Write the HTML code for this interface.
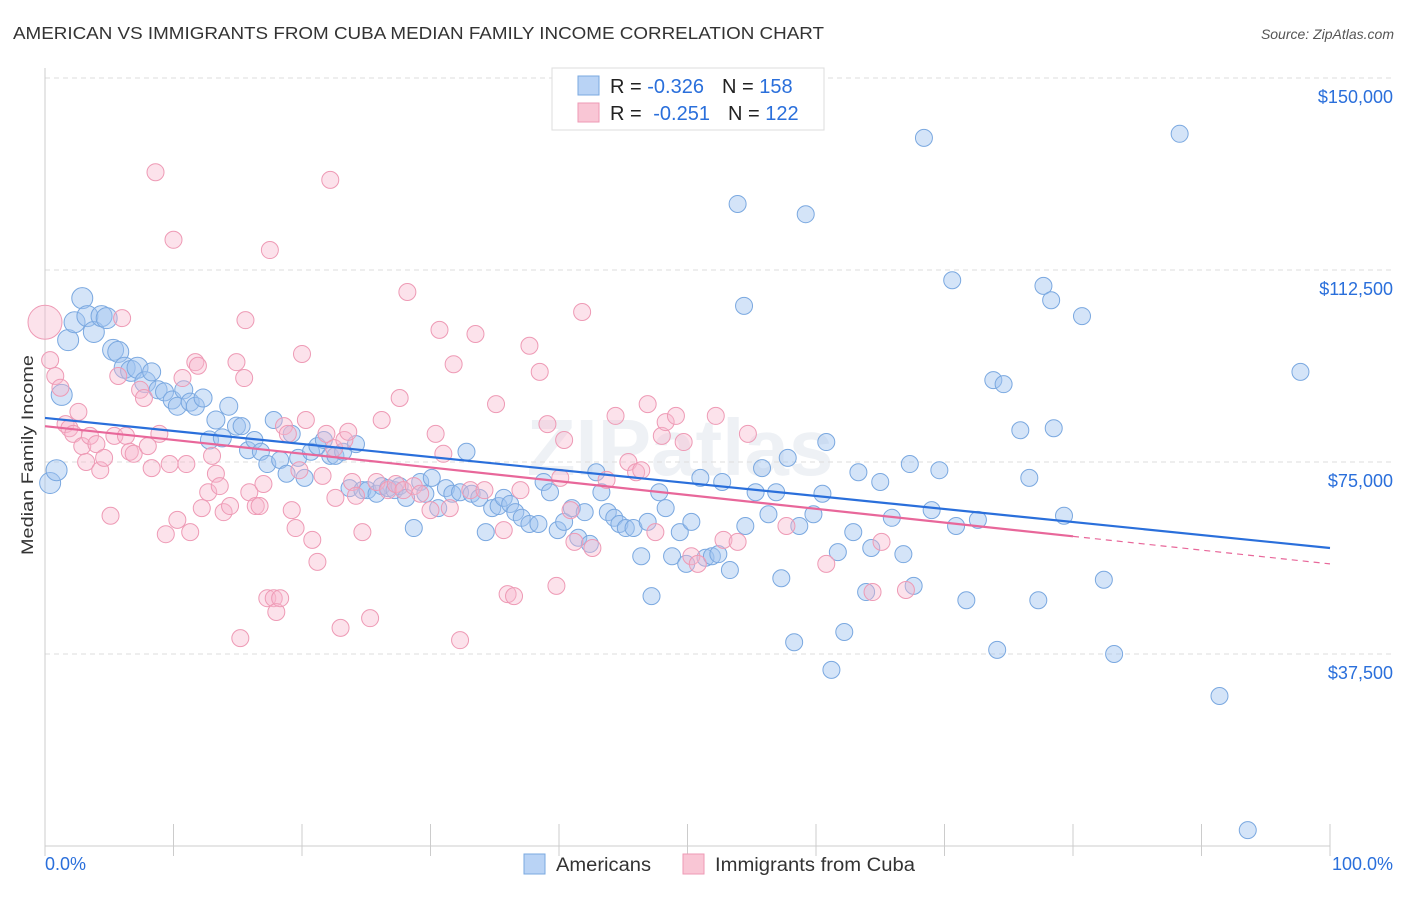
<!DOCTYPE html>
<html><head><meta charset="utf-8"><style>
body{margin:0;background:#fff;font-family:"Liberation Sans",sans-serif;}
svg text{font-family:"Liberation Sans",sans-serif;}
</style></head><body>
<svg id="chart" width="1406" height="892" viewBox="0 0 1406 892">
<text x="13" y="39" font-size="17.5" fill="#333" textLength="811" lengthAdjust="spacingAndGlyphs">AMERICAN VS IMMIGRANTS FROM CUBA MEDIAN FAMILY INCOME CORRELATION CHART</text>
<text x="1394" y="39" font-size="14" fill="#555" font-style="italic" text-anchor="end">Source: ZipAtlas.com</text>
<text x="680" y="475" font-size="80" fill="#eef1f5" text-anchor="middle" font-weight="bold">ZIPatlas</text>
<g id="grid"></g>
<g id="axes"></g>
<g id="pts"></g>
<g id="trend"></g>
<text transform="translate(33,455) rotate(-90)" font-size="17" fill="#333" text-anchor="middle" textLength="200" lengthAdjust="spacingAndGlyphs">Median Family Income</text>
<g>
<rect x="552" y="68" width="272" height="62" fill="#fff" stroke="#ddd"/>
<rect x="578" y="76" width="21" height="19" fill="#b9d3f5" stroke="#7aa8e0"/>
<rect x="578" y="103" width="21" height="19" fill="#f9c6d5" stroke="#ee9ab5"/>
<text x="610" y="93" font-size="20" fill="#222">R = <tspan fill="#2a6fdb">-0.326</tspan><tspan dx="18">N = </tspan><tspan fill="#2a6fdb">158</tspan></text>
<text x="610" y="120" font-size="20" fill="#222">R = <tspan fill="#2a6fdb" dx="6">-0.251</tspan><tspan dx="18">N = </tspan><tspan fill="#2a6fdb">122</tspan></text>
</g>
<g>
<rect x="524" y="854" width="21" height="20" fill="#b9d3f5" stroke="#7aa8e0"/>
<text x="556" y="871" font-size="19" fill="#333" textLength="95" lengthAdjust="spacingAndGlyphs">Americans</text>
<rect x="683" y="854" width="21" height="20" fill="#f9c6d5" stroke="#ee9ab5"/>
<text x="715" y="871" font-size="19" fill="#333" textLength="200" lengthAdjust="spacingAndGlyphs">Immigrants from Cuba</text>
</g>
</svg>
<script>
const yTicks=[37500,75000,112500,150000];
const yTickLabels=["$37,500","$75,000","$112,500","$150,000"];
const xTickLabels=["0.0%","100.0%"];
const blueX=[0.4,0.9,1.3,1.8,2.3,2.9,3.3,3.8,4.4,4.8,5.3,5.7,6.2,6.7,7.2,7.8,8.3,8.8,9.3,9.9,10.3,10.8,11.3,11.7,12.3,12.8,13.3,13.8,14.3,14.9,15.3,15.8,16.3,16.8,17.3,17.8,18.3,18.8,19.2,19.7,20.2,20.7,21.2,21.7,22.2,22.6,23.2,23.7,24.2,24.7,25.1,25.8,26.2,26.7,27.2,27.6,28.1,28.7,29.2,29.6,30.1,30.6,31.2,31.7,32.3,32.8,33.2,33.8,34.3,34.8,35.3,35.7,36.2,36.6,37.1,37.7,38.4,38.8,39.3,39.9,40.4,41.0,41.5,42.0,42.4,42.9,43.3,43.8,44.3,44.7,45.2,45.8,46.4,46.9,47.2,47.8,48.3,48.8,49.4,49.9,50.3,51.0,51.4,51.9,52.4,52.7,53.3,53.9,54.4,54.5,55.3,55.8,56.3,56.9,57.3,57.8,58.3,58.7,59.2,59.8,60.5,60.8,61.2,61.7,62.2,62.9,63.3,63.9,64.3,65.0,65.9,66.8,67.3,67.6,68.4,69.0,69.6,70.6,70.9,71.7,72.6,73.8,74.1,74.6,75.9,76.6,77.3,77.7,78.3,78.5,79.3,80.7,82.4,83.2,88.3,91.4,93.6,97.7];
const blueY=[70.9,73.4,88.1,98.8,102.3,107.0,103.5,100.4,103.5,103.1,96.9,96.5,93.4,92.8,93.4,90.6,92.6,89.1,88.7,87.1,85.9,89.1,86.7,85.9,87.5,79.3,83.2,79.7,85.9,82.0,82.0,77.3,79.3,77.0,74.6,83.2,75.4,72.7,80.5,75.8,71.9,77.0,78.1,79.3,76.2,76.2,77.0,69.9,78.5,69.5,69.5,68.8,70.3,69.9,69.5,70.3,68.0,62.1,71.1,68.8,71.9,66.0,69.9,68.8,69.1,77.0,68.8,68.0,61.3,66.0,66.4,68.0,66.8,65.2,64.1,62.9,62.9,71.1,69.1,61.7,63.3,66.0,60.2,65.2,59.0,73.0,69.1,65.2,64.1,62.9,62.1,62.1,56.6,63.3,48.8,69.1,66.0,56.6,61.3,55.1,63.3,71.9,56.3,56.6,57.0,71.1,53.9,125.4,105.5,62.5,69.1,73.8,64.8,69.1,52.3,75.8,39.8,62.5,123.4,64.8,68.8,78.9,34.4,57.4,41.8,61.3,73.0,49.6,58.2,71.1,64.1,57.0,74.6,50.8,138.3,65.6,73.4,110.5,62.5,48.0,63.7,91.0,38.3,90.2,81.2,71.9,48.0,109.4,106.6,81.6,64.5,103.5,52.0,37.5,139.1,29.3,3.1,92.6];
const pinkX=[0.0,0.4,0.8,1.2,1.6,1.9,2.2,2.6,2.9,3.2,3.5,4.0,4.3,4.6,5.1,5.4,5.7,6.0,6.3,6.6,6.9,7.4,7.7,8.0,8.3,8.6,8.9,9.4,9.7,10.0,10.3,10.7,11.0,11.3,11.7,11.9,12.2,12.7,13.0,13.3,13.6,13.9,14.4,14.9,15.2,15.5,15.6,15.9,16.4,16.7,17.0,17.3,17.5,17.8,18.0,18.3,18.6,18.9,19.2,19.5,19.8,20.0,20.3,20.8,21.2,21.6,21.9,22.2,22.5,22.6,23.0,23.3,23.6,23.9,24.2,24.7,25.3,25.8,26.2,26.7,27.3,27.6,27.9,28.2,28.7,29.2,30.0,30.4,30.7,31.0,31.5,31.8,32.3,33.1,33.5,34.2,35.1,35.7,36.0,36.5,37.0,37.7,38.5,39.1,39.8,40.1,40.4,40.9,41.2,41.8,42.6,43.7,44.4,45.4,46.0,46.4,46.9,47.5,48.0,48.3,49.1,49.7,50.3,50.8,52.2,52.8,53.9,54.7,57.7,60.8,64.4,65.1,67.0];
const pinkY=[102.3,94.9,91.8,89.5,82.4,81.6,80.5,84.8,78.1,75.0,80.1,78.5,73.4,75.8,64.5,80.1,91.8,103.1,80.1,77.0,76.6,89.1,87.5,78.1,73.8,131.6,80.5,60.9,74.6,118.4,63.7,91.4,74.6,61.3,94.5,93.8,66.0,69.1,76.2,72.7,70.3,65.2,66.4,94.5,40.6,91.4,102.7,69.1,66.4,66.4,70.7,48.4,116.4,48.4,45.7,48.4,82.0,80.5,65.6,62.1,73.4,96.1,83.2,59.8,55.5,72.3,80.5,130.1,77.7,68.0,42.6,79.3,80.9,71.1,68.4,61.3,44.5,71.1,83.2,69.5,70.7,87.5,69.5,108.2,70.3,68.8,65.6,80.5,100.8,76.6,66.0,94.1,40.2,69.5,100.0,69.5,86.3,61.7,49.2,48.8,69.5,97.7,92.6,82.4,50.8,71.9,79.3,65.6,59.4,104.3,58.2,71.5,84.0,75.0,73.0,73.4,86.3,61.3,80.1,82.8,84.0,78.9,56.6,55.1,84.0,59.8,59.4,80.5,62.5,55.1,49.6,59.4,50.0];
const blueTrend=[83.6,58.2];
const pinkTrend=[82.0,55.1];
const pinkSolidEnd=80;

const X0=45,X1=1330,YB=846,YT=78;
const sx=p=>X0+(X1-X0)*p/100;
const sy=k=>YB-(YB-YT)*k/150;
const NS="http://www.w3.org/2000/svg";
function mk(tag,attrs,parent){const e=document.createElementNS(NS,tag);for(const k in attrs)e.setAttribute(k,attrs[k]);document.getElementById(parent).appendChild(e);return e;}

yTicks.forEach((v,i)=>{
  const y=sy(v/1000);
  const g=mk('line',{x1:X0,x2:1394,y1:y,y2:y,stroke:'#ddd','stroke-dasharray':'5,4'},'grid');
  
  
  const t=mk('text',{x:1393,y:y+25,'font-size':18,fill:'#2a6fdb','text-anchor':'end'},'grid');
  t.textContent=yTickLabels[i];
  
  
});
const topg=mk('line',{x1:X0,x2:1394,y1:YT,y2:YT,stroke:'#ddd','stroke-dasharray':'5,4'},'grid');


const ya=mk('line',{x1:X0,x2:X0,y1:68,y2:YB,stroke:'#ccc'},'axes');


const xa=mk('line',{x1:X0,x2:X1,y1:YB,y2:YB,stroke:'#ccc'},'axes');


for(let i=0;i<=10;i++){
  const x=sx(i*10);
  const tk=mk('line',{x1:x,x2:x,y1:YB-22,y2:YB+10,stroke:'#ccc'},'axes');
  
  
}
const xl0=mk('text',{x:X0,y:870,'font-size':18,fill:'#2a6fdb'},'axes');
xl0.textContent=xTickLabels[0];


const xl1=mk('text',{x:1393,y:870,'font-size':18,fill:'#2a6fdb','text-anchor':'end'},'axes');
xl1.textContent=xTickLabels[1];



blueX.forEach((p,i)=>{
  const r=p<8?10.5:(p<15?9:8.5);
  const c=mk('circle',{cx:sx(p),cy:sy(blueY[i]),r:r,fill:'rgba(160,196,240,0.45)',stroke:'#7aa8e0','stroke-width':1},'pts');
  
  
});
pinkX.forEach((p,i)=>{
  const r=i===0?17:8.5;
  const c=mk('circle',{cx:sx(p),cy:sy(pinkY[i]),r:r,fill:'rgba(248,182,204,0.4)',stroke:'#ee9ab5','stroke-width':1},'pts');
  
  
});
const bt=mk('line',{x1:sx(0),y1:sy(blueTrend[0]),x2:sx(100),y2:sy(blueTrend[1]),stroke:'#2a6fdb','stroke-width':2.2},'trend');


const pm=pinkTrend[0]+(pinkTrend[1]-pinkTrend[0])*pinkSolidEnd/100;
const pt=mk('line',{x1:sx(0),y1:sy(pinkTrend[0]),x2:sx(pinkSolidEnd),y2:sy(pm),stroke:'#e8679a','stroke-width':2.2},'trend');


const pd=mk('line',{x1:sx(pinkSolidEnd),y1:sy(pm),x2:sx(100),y2:sy(pinkTrend[1]),stroke:'#e8679a','stroke-width':1.2,'stroke-dasharray':'6,5'},'trend');


</script>
</body></html>
